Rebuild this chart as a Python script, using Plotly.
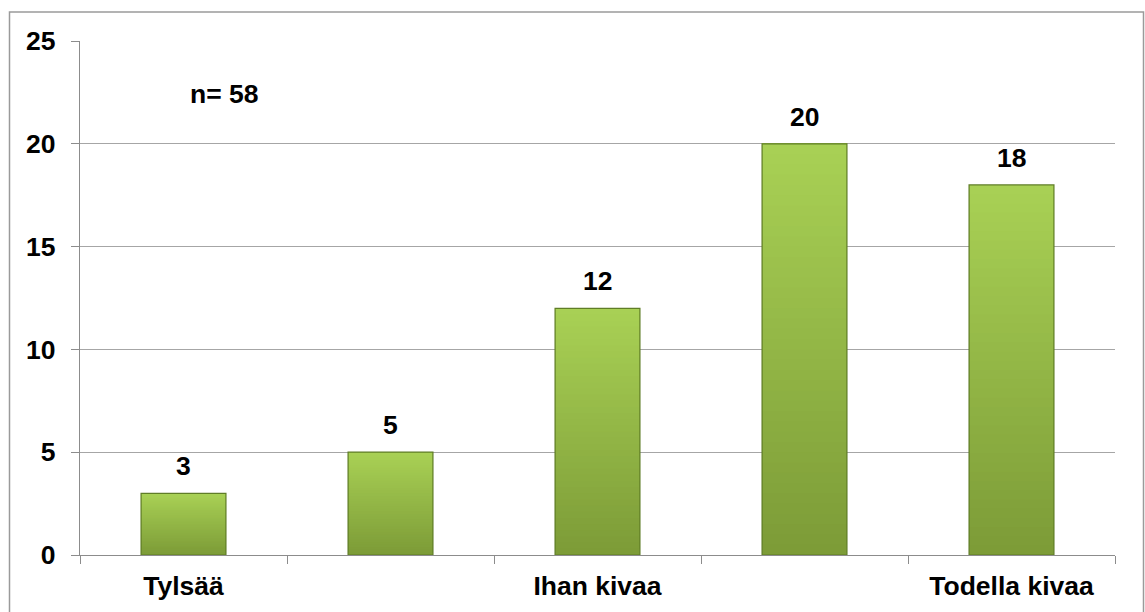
import plotly.graph_objects as go

categories = ["Tylsää", " ", "Ihan kivaa", "  ", "Todella kivaa"]
values = [3, 5, 12, 20, 18]
n_label = "n= 58"
y_ticks = [0, 5, 10, 15, 20, 25]

FONT = "Liberation Sans, Arial, sans-serif"
FS = 26.5

def lerp(c1, c2, t):
    return "rgb(%d,%d,%d)" % tuple(round(a + (b - a) * t) for a, b in zip(c1, c2))

top_c = (0xA9, 0xD1, 0x55)
bot_c = (0x7C, 0x9B, 0x37)
N = 40
BW = 0.41

fig = go.Figure()
for i in range(N):
    t = (i + 0.5) / N
    fig.add_trace(go.Bar(
        x=categories,
        y=[v * (N - i) / N for v in values],
        base=[v * i / N for v in values],
        width=BW,
        marker=dict(color=lerp(bot_c, top_c, t), line=dict(width=0)),
        hoverinfo="skip", showlegend=False,
    ))
fig.add_trace(go.Bar(
    x=categories, y=values, width=BW,
    marker=dict(color="rgba(0,0,0,0)", line=dict(color="#5f7d26", width=1.2)),
    showlegend=False,
))

for c, v in zip(categories, values):
    fig.add_annotation(x=c, y=v, text=f"<b>{v}</b>", showarrow=False,
                       yanchor="bottom", yshift=10,
                       font=dict(family=FONT, size=FS, color="black"))

fig.add_annotation(xref="paper", yref="y", x=0.14, y=22.4, text=f"<b>{n_label}</b>",
                   xanchor="center", yanchor="middle",
                   showarrow=False, font=dict(family=FONT, size=FS, color="black"))

L, R, T, B = 80, 30, 41, 57
PW, PH = 1145 - L - R, 612 - T - B
fig.add_shape(type="rect", xref="paper", yref="paper",
              x0=(9.5 - L) / PW, x1=(1143.5 - L) / PW,
              y0=(612 - B - 630) / PH, y1=(612 - B - 12) / PH,
              line=dict(color="#9a9a9a", width=1.5), fillcolor="rgba(0,0,0,0)", layer="below")

fig.update_layout(
    width=1145, height=612,
    margin=dict(l=L, r=R, t=T, b=B),
    paper_bgcolor="white", plot_bgcolor="white",
    barmode="overlay",
    font=dict(family=FONT, size=FS, color="black"),
    xaxis=dict(
        type="category", categoryorder="array", categoryarray=categories,
        tickvals=categories, ticktext=[f"<b>{c}</b>" for c in categories],
        tickson="boundaries", ticks="outside", ticklen=8, tickcolor="#8c8c8c",
        showline=True, linecolor="#8c8c8c", linewidth=1.2,
        showgrid=False,
        tickfont=dict(family=FONT, size=FS, color="black"),
        ticklabelstandoff=7,
    ),
    yaxis=dict(
        range=[0, 25], tickvals=y_ticks, ticktext=[f"<b>{v}</b>" for v in y_ticks],
        ticks="outside", ticklen=8, tickcolor="#8c8c8c",
        showline=True, linecolor="#8c8c8c", linewidth=1.2,
        showgrid=True, gridcolor="#a6a6a6", gridwidth=1.2,
        zeroline=False,
        tickfont=dict(family=FONT, size=FS, color="black"),
        ticklabelstandoff=10,
    ),
)

fig.write_html("out.html")
